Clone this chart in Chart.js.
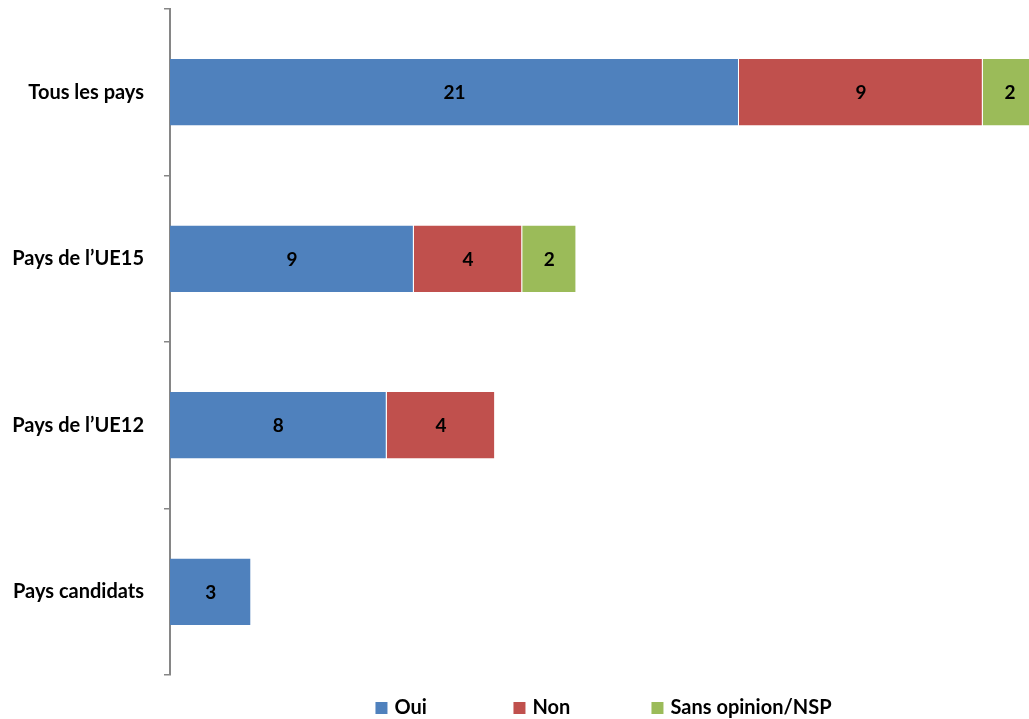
<!DOCTYPE html>
<html>
<head>
<meta charset="utf-8">
<script src="https://cdn.jsdelivr.net/npm/chart.js@4"></script>
<style>
    html, body { margin: 0; padding: 0; background: #fff; overflow: hidden; }
    #wrap { width: 1040px; height: 719px; }
</style>
</head>
<body>
<div id="wrap"><canvas id="chart"></canvas></div>
<script>
// Données du graphique
const categories = ['Tous les pays', 'Pays de l\u2019UE15', 'Pays de l\u2019UE12', 'Pays candidats'];
const oui = [21, 9, 8, 3];
const non = [9, 4, 4, null];
const sansOpinion = [2, 2, null, null];
const seriesNames = ['Oui', 'Non', 'Sans opinion/NSP'];
const seriesColors = ['#4F81BD', '#C0504D', '#9BBB59'];

const FONT = 'Lato, "Open Sans", sans-serif';

// Valeurs au centre des barres
const barValues = {
    id: 'barValues',
    afterDatasetsDraw(chart) {
        const ctx = chart.ctx;
        ctx.save();
        ctx.font = 'bold 19px ' + FONT;
        ctx.fillStyle = '#000';
        ctx.textAlign = 'center';
        ctx.textBaseline = 'middle';
        chart.data.datasets.forEach((ds, i) => {
            chart.getDatasetMeta(i).data.forEach((bar, j) => {
                const v = ds.data[j];
                if (!v) return;
                const p = bar.getProps(['x', 'y', 'base'], true);
                ctx.fillText(v, (p.x + p.base) / 2, p.y + 1);
            });
        });
        ctx.restore();
    }
};

// Légende en bas, pas fixe entre les éléments
const bottomLegend = {
    id: 'bottomLegend',
    afterDraw(chart) {
        const ctx = chart.ctx;
        const area = chart.chartArea;
        const step = 138, box = 12, gap = 7;
        ctx.save();
        ctx.font = 'bold 20px ' + FONT;
        ctx.textBaseline = 'middle';
        ctx.textAlign = 'left';
        const ds = chart.data.datasets;
        const lastW = box + gap + ctx.measureText(ds[ds.length - 1].label).width;
        const total = step * (ds.length - 1) + lastW;
        let x = (area.left + area.right) / 2 - total / 2;
        const y = 708;
        ds.forEach(d => {
            ctx.fillStyle = d.backgroundColor;
            ctx.fillRect(x, y - box / 2, box, box);
            ctx.fillStyle = '#000';
            ctx.fillText(d.label, x + box + gap, y);
            x += step;
        });
        ctx.restore();
    }
};

const seriesData = [oui, non, sansOpinion];
const datasets = seriesNames.map((name, i) => ({
    label: name,
    data: seriesData[i],
    backgroundColor: seriesColors[i],
    borderColor: 'rgba(255,255,255,0.6)',
    borderWidth: { right: 1, top: 0, bottom: 0, left: 0 },
    borderSkipped: false,
    barPercentage: 0.4,
    categoryPercentage: 1.0
}));

new Chart(document.getElementById('chart').getContext('2d'), {
    type: 'bar',
    data: { labels: categories, datasets: datasets },
    options: {
        indexAxis: 'y',
        responsive: true,
        maintainAspectRatio: false,
        animation: false,
        layout: { padding: { top: 9, right: 3, left: 0, bottom: 44 } },
        scales: {
            x: {
                stacked: true,
                display: false,
                min: 0,
                max: 32
            },
            y: {
                stacked: true,
                border: { display: true, color: '#868686', width: 2 },
                grid: {
                    drawOnChartArea: false,
                    drawTicks: true,
                    tickLength: 6,
                    color: '#868686',
                    lineWidth: 1.5
                },
                ticks: {
                    color: '#000',
                    padding: 20,
                    font: { family: FONT, size: 20, weight: 'bold' }
                },
                afterFit(scale) {
                    scale.width = 170;
                    scale.paddingTop = 0;
                    scale.paddingBottom = 0;
                }
            }
        },
        plugins: {
            legend: { display: false },
            tooltip: { enabled: false }
        }
    },
    plugins: [barValues, bottomLegend]
});
</script>
</body>
</html>
